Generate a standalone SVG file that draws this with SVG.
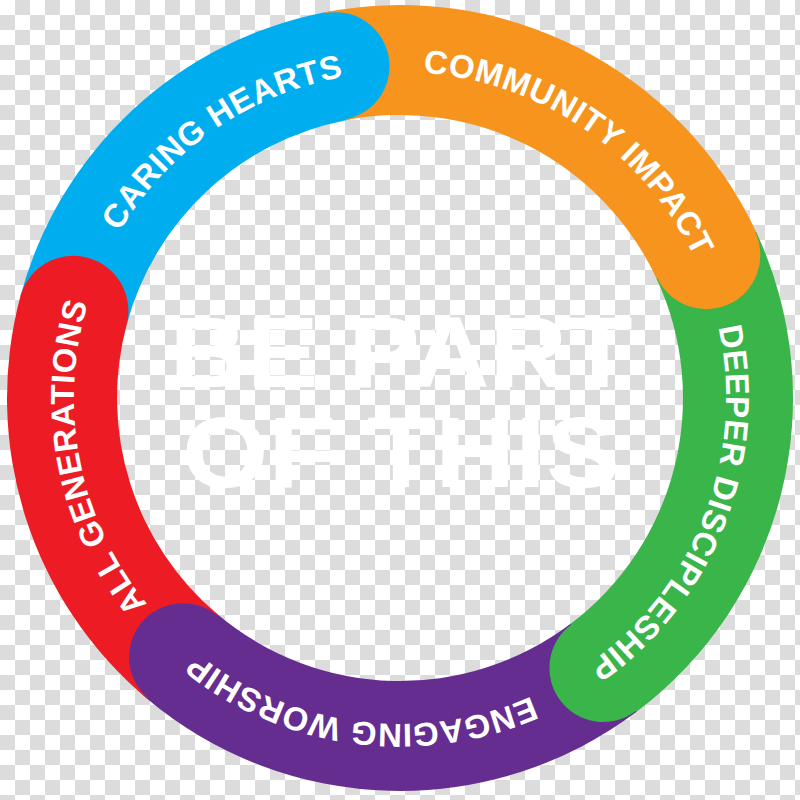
<svg xmlns="http://www.w3.org/2000/svg" xmlns:xlink="http://www.w3.org/1999/xlink" width="800" height="800" viewBox="0 0 800 800">
  <style>
    .label { font-family: "Liberation Sans", Arial, sans-serif; font-weight: bold; font-size: 33px; fill: #ffffff; letter-spacing: 0.5px; }
    .title { font-family: "Liberation Sans", Arial, sans-serif; font-weight: bold; font-size: 101px; fill: #ffffff; }
  </style>
  <defs>
    <pattern id="checker" width="30" height="30" patternUnits="userSpaceOnUse">
      <rect width="30" height="30" fill="#ffffff"/>
      <rect x="15" y="0" width="15" height="15" fill="#dcdcdc"/>
      <rect x="0" y="15" width="15" height="15" fill="#dcdcdc"/>
    </pattern>
    <path id="textCircle" d="M 400 72 A 326 326 0 1 1 400 724 A 326 326 0 1 1 400 72"/>
  </defs>

  <rect id="background" x="0" y="0" width="800" height="800" fill="url(#checker)"/>

  <g id="seg-caring-hearts">
    <path fill="#00aeef" d="M 20.39 296.28 A 393 393 0 0 1 325.01 12.22 A 55 55 0 0 1 346.00 120.20 A 283 283 0 0 0 126.64 324.75 L 125.68 324.50 A 54 54 0 0 0 21.36 296.54 Z"/>
    <text class="label" text-anchor="middle"><textPath xlink:href="#textCircle" href="#textCircle" startOffset="1850.7">CARING HEARTS</textPath></text>
  </g>

  <g id="seg-community-impact">
    <path fill="#f7941d" d="M 325.01 12.22 A 393 393 0 0 1 756.18 231.91 A 55 55 0 0 1 656.48 278.40 A 283 283 0 0 0 346.00 120.20 L 345.81 119.22 A 54 54 0 0 0 325.20 13.20 Z"/>
    <text class="label" text-anchor="middle"><textPath xlink:href="#textCircle" href="#textCircle" startOffset="195.2">COMMUNITY IMPACT</textPath></text>
  </g>

  <g id="seg-deeper-discipleship">
    <path fill="#39b54a" d="M 756.18 231.91 A 393 393 0 0 1 636.51 711.86 A 55 55 0 0 1 570.31 624.01 A 283 283 0 0 0 656.48 278.40 L 657.39 277.98 A 54 54 0 0 0 755.27 232.33 Z"/>
    <text class="label" text-anchor="middle"><textPath xlink:href="#textCircle" href="#textCircle" startOffset="632.4">DEEPER DISCIPLESHIP</textPath></text>
  </g>

  <g id="seg-engaging-worship">
    <path fill="#662d91" d="M 636.51 711.86 A 393 393 0 0 1 147.38 699.05 A 55 55 0 0 1 218.09 614.79 A 283 283 0 0 0 570.31 624.01 L 570.92 624.81 A 54 54 0 0 0 635.91 711.07 Z"/>
    <text class="label" text-anchor="middle"><textPath xlink:href="#textCircle" href="#textCircle" startOffset="1066">ENGAGING WORSHIP</textPath></text>
  </g>

  <g id="seg-all-generations">
    <path fill="#ed1c24" d="M 147.38 699.05 A 393 393 0 0 1 20.39 296.28 A 55 55 0 0 1 126.64 324.75 A 283 283 0 0 0 218.09 614.79 L 217.45 615.56 A 54 54 0 0 0 148.03 698.29 Z"/>
    <text class="label" text-anchor="middle"><textPath xlink:href="#textCircle" href="#textCircle" startOffset="1472.6">ALL GENERATIONS</textPath></text>
  </g>

  <g id="center-title">
    <text class="title" x="401" y="387" text-anchor="middle" textLength="463" lengthAdjust="spacingAndGlyphs">BE PART</text>
    <text class="title" x="401" y="487" text-anchor="middle" textLength="438" lengthAdjust="spacingAndGlyphs">OF THIS</text>
  </g>
</svg>
